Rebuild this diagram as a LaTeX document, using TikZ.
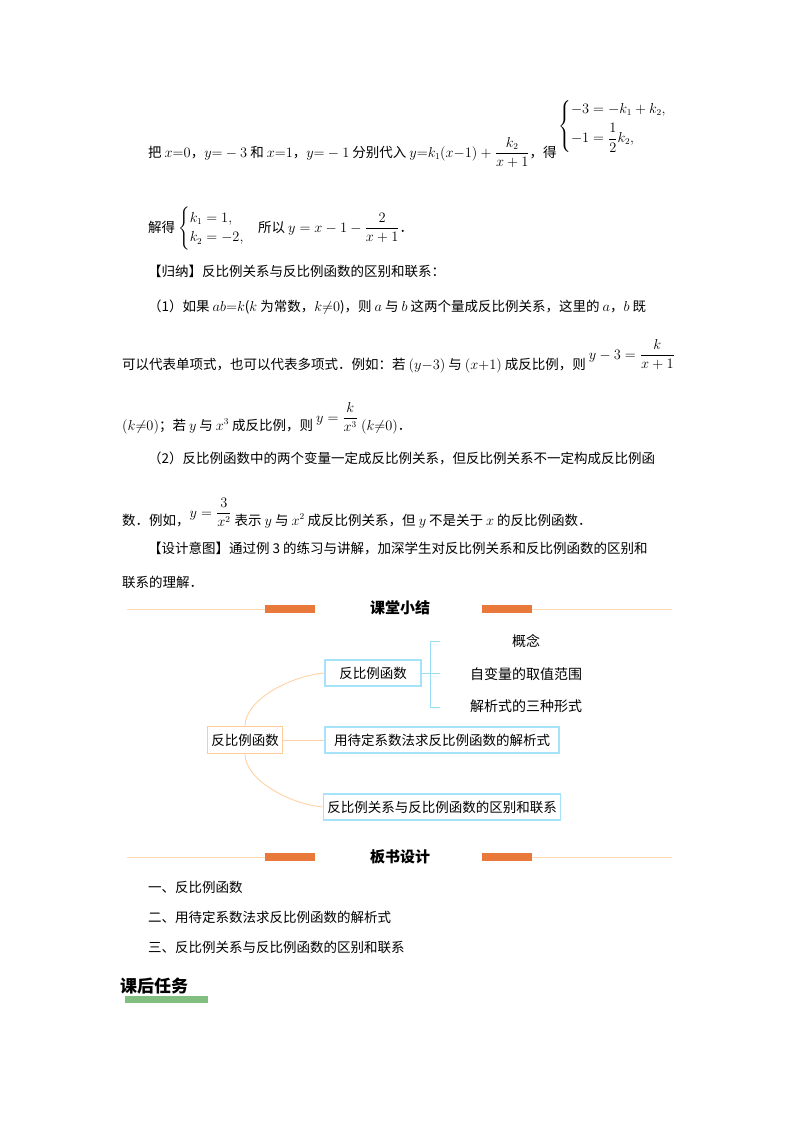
\documentclass[tikz,border=0pt]{standalone}
\usepackage{amsmath}
\usepackage{fontspec}
\setmainfont{Noto Sans CJK SC}
\definecolor{obar}{HTML}{E8793A}
\begin{document}
\begin{tikzpicture}[x=1pt,y=-1pt,
  t/.style={anchor=base west,inner sep=0pt,font=\fontsize{13.5}{16}\selectfont},
  hd/.style={font=\fontsize{15}{18}\selectfont\bfseries,inner sep=0pt},
  bbox/.style={draw=cyan!35,line width=1.2pt,fill=white,minimum height=26pt,inner sep=4pt,font=\fontsize{13.5}{16}\selectfont},
  obox/.style={draw=orange!40,line width=1.2pt,fill=white,minimum height=27pt,inner sep=4pt,font=\fontsize{13.5}{16}\selectfont},
  sub/.style={font=\fontsize{14}{16}\selectfont,inner sep=1pt},
  thin/.style={draw=orange!30,line width=0.8pt},
  bar/.style={fill=obar,draw=none},
  cv/.style={draw=orange!35,line width=0.9pt},
  br/.style={draw=cyan!40,line width=0.9pt}]
\useasboundingbox (0,0) rectangle (800,1132);
\node[t] (l1) at (148,157) {把 $x{=}0$，$y{=}-3$ 和 $x{=}1$，$y{=}-1$ 分别代入 $y{=}k_1(x{-}1)+\dfrac{k_2}{x+1}$，得};
\node[t] (s1) at (558,130) {$\begin{cases}-3=-k_1+k_2,\\[4pt]-1=\dfrac12k_2,\end{cases}$};
\node[t] (l2) at (148,232) {解得 $\begin{cases}k_1=1,\\k_2=-2,\end{cases}$所以 $y=x-1-\dfrac{2}{x+1}$．};
\node[t] (l3) at (148,276) {【归纳】反比例关系与反比例函数的区别和联系：};
\node[t] (l4) at (148,311) {（1）如果 $ab{=}k$($k$ 为常数，$k{\neq}0$)，则 $a$ 与 $b$ 这两个量成反比例关系，这里的 $a$，$b$ 既};
\node[t] (l5) at (122,369) {可以代表单项式，也可以代表多项式．例如：若 $(y{-}3)$ 与 $(x{+}1)$ 成反比例，则 \raisebox{10pt}{$y-3=\dfrac{k}{x+1}$}};
\node[t] (l6) at (122,430) {$(k{\neq}0)$；若 $y$ 与 $x^3$ 成反比例，则 \raisebox{8pt}{$y=\dfrac{k}{x^3}$} $(k{\neq}0)$．};
\node[t] (l7) at (148,463) {（2）反比例函数中的两个变量一定成反比例关系，但反比例关系不一定构成反比例函};
\node[t] (l8) at (122,525) {数．例如，\raisebox{8pt}{$y=\dfrac{3}{x^2}$} 表示 $y$ 与 $x^2$ 成反比例关系，但 $y$ 不是关于 $x$ 的反比例函数．};
\node[t] (l9) at (148,553) {【设计意图】通过例 3 的练习与讲解，加深学生对反比例关系和反比例函数的区别和};
\node[t] (l10) at (122,587) {联系的理解．};
% header 1
\draw[thin] (127,609) -- (270,609); \draw[thin] (530,609) -- (672,609);
\fill[bar] (265,605) rectangle (315,613); \fill[bar] (482,605) rectangle (532,613);
\node[hd] (h1) at (400,608) {课堂小结};
% mind map
\node[obox] (root) at (245,740) {反比例函数};
\node[bbox,minimum width=96pt] (a) at (373,673) {反比例函数};
\node[bbox,minimum width=234pt] (b) at (442,740) {用待定系数法求反比例函数的解析式};
\node[bbox,minimum width=234pt] (c) at (442,807) {反比例关系与反比例函数的区别和联系};
\node[sub] (s1n) at (526,641) {概念};
\node[sub] (s2n) at (526,674) {自变量的取值范围};
\node[sub] (s3n) at (526,706) {解析式的三种形式};
\draw[cv] (root.north) .. controls (245,700) and (290,676) .. (a.west);
\draw[cv] (root.south) .. controls (245,780) and (290,804) .. (c.west);
\draw[cv] (root.east) -- (b.west);
\coordinate (bt) at (430,641); \coordinate (bb) at (430,707);
\coordinate (bm) at (440,673);
\coordinate (t1) at (440,641); \coordinate (t3) at (440,707);
\draw[br] (a.east) -- (bm);
\draw[br] (t1) -- (bt) -- (bb) -- (t3);
% header 2
\draw[thin] (127,857) -- (270,857); \draw[thin] (530,857) -- (672,857);
\fill[bar] (265,853) rectangle (315,861); \fill[bar] (482,853) rectangle (532,861);
\node[hd] (h2) at (400,857) {板书设计};
\node[t] (m1) at (148,892) {一、反比例函数};
\node[t] (m2) at (148,922) {二、用待定系数法求反比例函数的解析式};
\node[t] (m3) at (148,952) {三、反比例关系与反比例函数的区别和联系};
\fill[green!50!black!50!white] (125,996) rectangle (208,1003);
\node[anchor=base west,inner sep=0pt,font=\fontsize{17}{20}\selectfont\bfseries] (k) at (120,992) {课后任务};
\end{tikzpicture}
\end{document}
